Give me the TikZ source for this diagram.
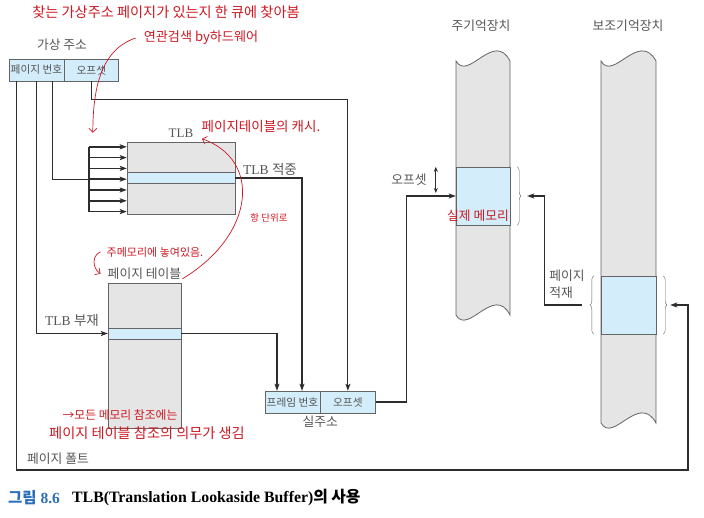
\documentclass[tikz,border=0pt]{standalone}
\usepackage{fontspec}
\setmainfont{Liberation Serif}
\newfontfamily\kr{Noto Sans CJK KR}
\usetikzlibrary{arrows.meta,calc,positioning,decorations.pathreplacing}
\definecolor{gfill}{RGB}{229,229,229}
\definecolor{bfill}{RGB}{212,237,250}
\definecolor{edge}{RGB}{100,100,100}
\definecolor{wirec}{RGB}{45,45,45}
\definecolor{lblc}{RGB}{85,85,85}
\definecolor{pen}{RGB}{205,25,35}
\definecolor{capblue}{RGB}{45,110,185}
\tikzset{cell/.style={draw=edge,fill=bfill,inner sep=0pt,minimum height=22pt,text=lblc,font=\kr\fontsize{10.7}{12}\selectfont},
  tablebox/.style={draw=edge,fill=gfill,inner sep=0pt},
  hitrow/.style={draw=edge,fill=bfill,inner sep=0pt,minimum height=11pt},
  wire/.style={draw=wirec,line width=1.1pt},
  arr/.style={wire,-{Stealth[length=7pt,width=5pt,inset=1.5pt]}},
  tagtext/.style={text=lblc,font=\kr\fontsize{12.8}{14}\selectfont,inner sep=1pt},
  pennote/.style={text=pen,inner sep=0pt},
  pencil/.style={draw=pen,line width=0.7pt,-{Straight Barb[length=4pt,width=8pt]}},
  curly/.style={draw=edge,decorate,decoration={brace,amplitude=4pt}},
  column/.style={draw=edge,fill=gfill,line width=0.8pt}}

\begin{document}
\begin{tikzpicture}[x=1pt,y=-1pt]
\useasboundingbox (0,0) rectangle (704,518);

% memory columns
\path[column] (456,61) -- (456,315) .. controls (468,336) and (494,284) .. (510,315)
  -- (510,61) .. controls (494,30) and (468,82) .. (456,61) -- cycle;
\path[column] (601,61) -- (601,423) .. controls (613,444) and (639,392) .. (656,423)
  -- (656,61) .. controls (639,30) and (613,82) .. (601,61) -- cycle;
\node[hitrow,minimum width=54pt,minimum height=58pt] (frame) at (483,196) {};
\node[hitrow,minimum width=55pt,minimum height=58pt] (spage) at (628.5,305) {};
\node[tagtext] (mm) at (481,26) {주기억장치};
\node[tagtext] (sm) at (628,26) {보조기억장치};
\draw[curly] ($(frame.north east)+(7,0)$) -- ($(frame.south east)+(7,0)$);
\draw[curly] ($(spage.south west)+(-7,0)$) -- ($(spage.north west)+(-7,0)$);
\draw[curly] ($(spage.north east)+(7,0)$) -- ($(spage.south east)+(7,0)$);
\coordinate (mtip) at ($(frame.east)+(17,0)$);
\coordinate (stipl) at ($(spage.west)+(-19,0)$);
\coordinate (stipr) at ($(spage.east)+(14,0)$);
\coordinate (pfc) at (688,470);

% virtual address
\node[tagtext] (valbl) at (62,45) {가상 주소};
\node[cell,minimum width=55pt] (vpn) at (36.5,70) {페이지 번호};
\node[cell,minimum width=54pt,right=0pt of vpn] (voff) {오프셋};

% TLB
\node[tablebox,minimum width=108pt,minimum height=72pt] (tlb) at (181,178) {};
\node[hitrow,minimum width=108pt] (tlbrow) at (tlb.center) {};
\node[tagtext,font=\fontsize{13}{14}\selectfont,above=3pt of tlb] (tlblbl) {TLB};
\foreach \k in {0,...,6}
  \coordinate (fan\k) at ($(tlb.north west)+(-38,5+10.8*\k)$);
\draw[wire,line width=1.5pt] (fan0) -- (fan6);
\foreach \k in {0,...,6}
  \draw[arr,line width=1.5pt] (fan\k) -- (fan\k -| tlb.west);

% page table
\node[tablebox,minimum width=73pt,minimum height=145pt] (pt) at (144.5,355.5) {};
\node[hitrow,minimum width=73pt,below=45pt of pt.north] (ptrow) {};
\node[tagtext,above=2pt of pt] (ptlbl) {페이지 테이블};

% real address
\node[cell,minimum width=55pt] (fn) at (292.5,402) {프레임 번호};
\node[cell,minimum width=55pt,right=0pt of fn] (poff) {오프셋};
\node[tagtext,below=2pt of fn.south east] (pa) {실주소};

% connectors
\draw[arr] ($(vpn.south west)+(8,0)$) |- (pfc) |- (stipr);
\draw[arr] ($(vpn.south west)+(28,0)$) |- (ptrow.west);
\draw[wire] ($(vpn.south west)+(44,0)$) |- (fan3);
\draw[arr] (voff.south) -- ++(0,18) -| (poff.north);
\draw[arr] (tlbrow.east) -| ([xshift=9.5pt]fn.north);
\draw[arr] (ptrow.east) -| ([xshift=-15.5pt]fn.north);
\draw[arr] (poff.east) -- ++(31,0) |- (frame.west);
\draw[arr] (stipl) -- ++(-37,0) |- (mtip);
\draw[wire,line width=0.9pt,{Stealth[length=5pt,width=4pt]}-{Stealth[length=5pt,width=4pt]}]
  ($(frame.north west)+(-20,0)$) -- ($(frame.west)+(-20,-3)$);

% labels
\node[tagtext,font=\fontsize{13.5}{15}\selectfont,anchor=west] (hit) at (242,169) {TLB {\kr 적중}};
\node[tagtext,font=\fontsize{13.5}{15}\selectfont] (miss) at (72,320) {TLB {\kr 부재}};
\node[tagtext] (pf) at (58,459) {페이지 폴트};
\node[tagtext] (offl) at (409,180) {오프셋};
\node[tagtext,align=left,font=\kr\fontsize{12.8}{17.5}\selectfont] (load) at (567,284) {페이지\\적재};

% caption
\node[anchor=west,inner sep=0pt,text=capblue,font=\bfseries\fontsize{15.5}{17}\selectfont] (capnum) at (8,498) {{\kr 그림} 8.6};
\node[anchor=west,inner sep=0pt,font=\bfseries\fontsize{15.8}{17}\selectfont] (captext) at (72,498) {TLB(Translation Lookaside Buffer){\kr 의 사용}};

% handwritten notes
\node[pennote,font=\kr\fontsize{14.2}{16}\selectfont] (n1) at (166,12) {찾는 가상주소 페이지가 있는지 한 큐에 찾아봄};
\node[pennote,font=\kr\fontsize{13.1}{15}\selectfont] (n2) at (201,38) {연관검색 by하드웨어};
\node[pennote,font=\kr\fontsize{13.5}{15}\selectfont] (n3) at (261,126) {페이지테이블의 캐시.};
\node[pennote,font=\kr\fontsize{9.5}{11}\selectfont] (n4) at (269,218) {항 단위로};
\node[pennote,font=\kr\fontsize{11}{13}\selectfont] (n5) at (155,252) {주메모리에 놓여있음.};
\node[pennote,font=\kr\fontsize{11.8}{13}\selectfont] (n6) at (120,415) {→모든 메모리 참조에는};
\node[pennote,font=\kr\fontsize{14.2}{16}\selectfont] (n7) at (147,433) {페이지 테이블 참조의 의무가 생김};
\node[pennote,font=\kr\fontsize{12.8}{14}\selectfont] (n8) at (478,216) {실제 메모리};
\draw[pencil] ([xshift=-8pt]n2.west) .. controls (100,50) and (93,90) .. ([xshift=4pt,yshift=14pt]fan0);
\draw[pencil] ([yshift=-5pt]ptlbl.east) .. controls (255,235) and (262,160) .. ([xshift=21pt,yshift=3pt]tlb.north);
\draw[pencil] ([xshift=-6pt]n5.west) .. controls (92,255) and (92,268) .. ([xshift=-6pt]ptlbl.west);
\end{tikzpicture}
\end{document}
